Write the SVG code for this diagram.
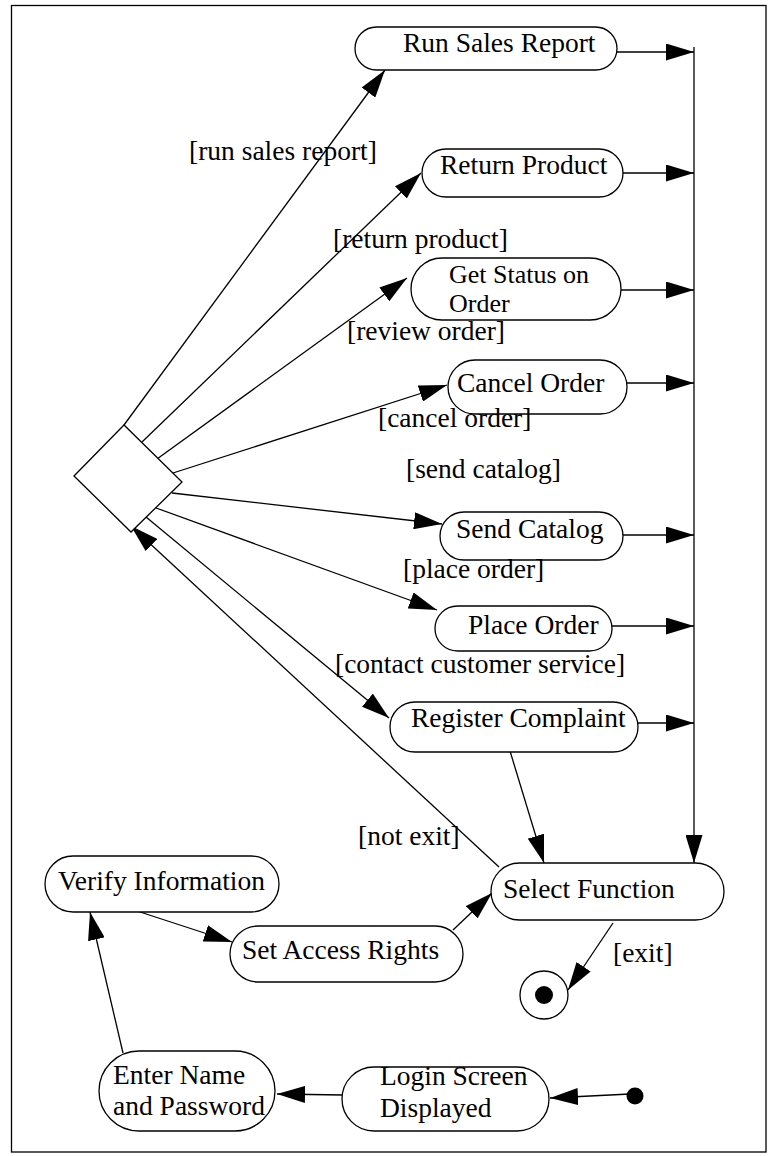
<svg xmlns="http://www.w3.org/2000/svg" width="770" height="1156" viewBox="0 0 770 1156">
<defs>
<marker id="ah" markerUnits="userSpaceOnUse" markerWidth="28" markerHeight="17" refX="28" refY="8.5" orient="auto">
<path d="M0,0 L28,8.5 L0,17 z" fill="#000"/>
</marker>
</defs>
<style>
text{font-family:"Liberation Serif","Times New Roman",serif;font-size:27.5px;fill:#000}
.n{fill:#fff;stroke:#000;stroke-width:1.3}
.c line{stroke:#000;stroke-width:1.3;fill:none}
.a{marker-end:url(#ah)}
</style>
<rect x="11.5" y="5.5" width="754.5" height="1146.5" fill="none" stroke="#000" stroke-width="1.3"/>
<g class="c">
<line class="a" x1="124" y1="425" x2="385" y2="70"/>
<line class="a" x1="142" y1="442" x2="421" y2="173"/>
<line class="a" x1="157" y1="459" x2="407" y2="278"/>
<line class="a" x1="173" y1="473" x2="447" y2="385"/>
<line class="a" x1="172" y1="493" x2="442" y2="524"/>
<line class="a" x1="156" y1="508" x2="437" y2="610"/>
<line class="a" x1="146" y1="517" x2="389" y2="718"/>
<line class="a" x1="499" y1="867" x2="131" y2="526"/>
<line class="a" x1="612" y1="52" x2="694" y2="52"/>
<line class="a" x1="623" y1="173" x2="694" y2="173"/>
<line class="a" x1="621" y1="290" x2="694" y2="290"/>
<line class="a" x1="627" y1="383" x2="694" y2="383"/>
<line class="a" x1="621" y1="535" x2="694" y2="535"/>
<line class="a" x1="610" y1="626" x2="694" y2="626"/>
<line class="a" x1="638" y1="723" x2="694" y2="723"/>
<line class="a" x1="694" y1="47" x2="694" y2="863"/>
<line class="a" x1="510" y1="751" x2="544" y2="863"/>
<line class="a" x1="137" y1="911" x2="232" y2="942"/>
<line class="a" x1="453" y1="930" x2="492" y2="893"/>
<line class="a" x1="123" y1="1053" x2="90" y2="912"/>
<line class="a" x1="343" y1="1095" x2="277" y2="1094"/>
<line class="a" x1="630" y1="1094" x2="550" y2="1098"/>
<line class="a" x1="613" y1="923" x2="568" y2="990"/>
</g>
<g id="decision"><polygon class="n" points="74,476 124,425 182,482 131,532"/></g>
<g id="run-sales-report"><rect class="n" x="355" y="27" width="262" height="43" rx="21.5"/><text x="403" y="52">Run Sales Report</text></g>
<g id="return-product"><rect class="n" x="422" y="149" width="201" height="48" rx="24"/><text x="440" y="174">Return Product</text></g>
<g id="get-status"><rect class="n" x="411" y="258" width="210" height="62" rx="31"/><text x="449" y="283" style="font-size:26px">Get Status on<tspan x="449" y="312">Order</tspan></text></g>
<g id="cancel-order"><rect class="n" x="448" y="360" width="179" height="54" rx="27"/><text x="457" y="392">Cancel Order</text></g>
<g id="send-catalog"><rect class="n" x="440" y="512" width="183" height="48" rx="24"/><text x="456" y="538">Send Catalog</text></g>
<g id="place-order"><rect class="n" x="435" y="606" width="177" height="45" rx="22.5"/><text x="468" y="634">Place Order</text></g>
<g id="register-complaint"><rect class="n" x="390" y="702" width="248" height="50" rx="25"/><text x="411" y="727">Register Complaint</text></g>
<g id="select-function"><rect class="n" x="491" y="863" width="233" height="57" rx="28.5"/><text x="503" y="898">Select Function</text></g>
<g id="verify-information"><rect class="n" x="45" y="856" width="234" height="56" rx="28"/><text x="58" y="890">Verify Information</text></g>
<g id="set-access-rights"><rect class="n" x="230" y="926" width="233" height="56" rx="28"/><text x="242" y="959">Set Access Rights</text></g>
<g id="enter-name"><rect class="n" x="99" y="1051" width="176" height="80" rx="40"/><text x="113" y="1084">Enter Name<tspan x="113" y="1115">and Password</tspan></text></g>
<g id="login-screen"><rect class="n" x="342" y="1067" width="207" height="64" rx="32"/><text x="380" y="1085">Login Screen<tspan x="380" y="1117">Displayed</tspan></text></g>
<g id="final-state"><circle class="n" cx="544" cy="995" r="24"/><circle cx="544" cy="995" r="9" fill="#000"/></g>
<g id="initial-state"><circle cx="635" cy="1096" r="8.5" fill="#000"/></g>
<g id="labels">
<text x="189" y="160">[run sales report]</text>
<text x="333" y="248">[return product]</text>
<text x="347" y="340">[review order]</text>
<text x="378" y="427">[cancel order]</text>
<text x="406" y="478">[send catalog]</text>
<text x="403" y="578">[place order]</text>
<text x="335" y="673">[contact customer service]</text>
<text x="358" y="845">[not exit]</text>
<text x="613" y="962">[exit]</text>
</g>
</svg>
